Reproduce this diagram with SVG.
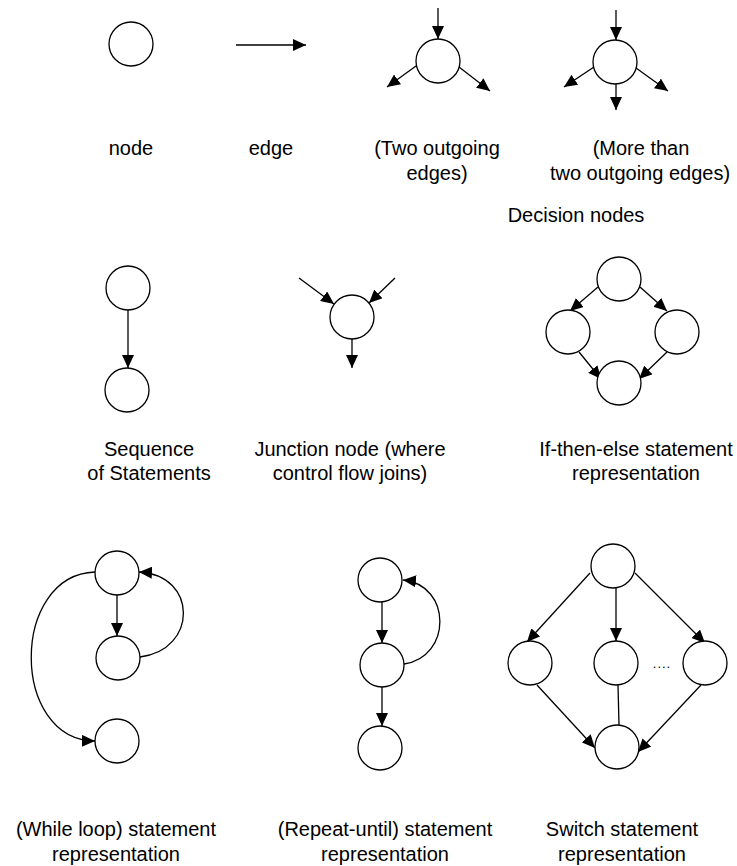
<svg xmlns="http://www.w3.org/2000/svg" width="737" height="866" viewBox="0 0 737 866">
<style>
.n{fill:#fff;stroke:#000;stroke-width:1.3}
.e{fill:none;stroke:#000;stroke-width:1.3}
.a{marker-end:url(#ah)}
text{font-family:"Liberation Sans",Arial,sans-serif;font-size:20px;fill:#000;text-anchor:middle}
</style>
<defs>
<marker id="ah" markerUnits="userSpaceOnUse" markerWidth="13" markerHeight="12" refX="13" refY="6" orient="auto">
<path d="M0,0 L13,6 L0,12 z" fill="#000"/>
</marker>
</defs>
<rect width="737" height="866" fill="#fff"/>
<g id="connectors">
<line class="e a" x1="236" y1="45" x2="306" y2="45"/>
<line class="e a" x1="438" y1="8" x2="438" y2="39"/>
<line class="e a" x1="416" y1="66" x2="387" y2="87"/>
<line class="e a" x1="459" y1="67" x2="490" y2="91"/>
<line class="e a" x1="616" y1="10" x2="616" y2="40"/>
<line class="e a" x1="594" y1="67" x2="564" y2="87"/>
<line class="e a" x1="636" y1="68" x2="668" y2="91"/>
<line class="e a" x1="616" y1="84" x2="616" y2="110"/>
<line class="e a" x1="128" y1="310" x2="128" y2="368"/>
<line class="e a" x1="299" y1="278" x2="334" y2="304"/>
<line class="e a" x1="395" y1="278" x2="369" y2="303"/>
<line class="e a" x1="352" y1="339" x2="352" y2="368"/>
<line class="e a" x1="598" y1="287" x2="570" y2="311"/>
<line class="e a" x1="640" y1="287" x2="667" y2="311"/>
<line class="e a" x1="579" y1="352" x2="601" y2="379"/>
<line class="e a" x1="667" y1="352" x2="639" y2="379"/>
<line class="e a" x1="117" y1="595" x2="117" y2="636"/>
<path class="e a" d="M140,657 C198,650 198,575 139,572"/>
<path class="e a" d="M95,572 C10,575 10,740 95,741"/>
<line class="e a" x1="382" y1="602" x2="382" y2="643"/>
<line class="e a" x1="382" y1="687" x2="382" y2="726"/>
<path class="e a" d="M404,664 C452,657 452,585 403,580"/>
<line class="e a" x1="590" y1="573" x2="527" y2="642"/>
<line class="e a" x1="616" y1="588" x2="616" y2="641"/>
<line class="e a" x1="635" y1="573" x2="705" y2="643"/>
<line class="e a" x1="537" y1="685" x2="595" y2="748"/>
<line class="e" x1="618" y1="685" x2="619" y2="725"/>
<line class="e a" x1="701" y1="685" x2="638" y2="752"/>
</g>
<g id="node-single"><circle class="n" cx="131" cy="44" r="22"/></g>
<g id="node-two-out"><circle class="n" cx="438" cy="61" r="22"/></g>
<g id="node-more-out"><circle class="n" cx="615" cy="62" r="22"/></g>
<g id="seq-1"><circle class="n" cx="128" cy="288" r="22"/></g>
<g id="seq-2"><circle class="n" cx="127" cy="390" r="22"/></g>
<g id="junction"><circle class="n" cx="352" cy="317" r="22"/></g>
<g id="if-top"><circle class="n" cx="619" cy="279" r="22"/></g>
<g id="if-left"><circle class="n" cx="568" cy="332" r="22"/></g>
<g id="if-right"><circle class="n" cx="677" cy="332" r="22"/></g>
<g id="if-bottom"><circle class="n" cx="619" cy="383" r="22"/></g>
<g id="while-1"><circle class="n" cx="117" cy="573" r="22"/></g>
<g id="while-2"><circle class="n" cx="118" cy="658" r="22"/></g>
<g id="while-3"><circle class="n" cx="117" cy="741" r="22"/></g>
<g id="repeat-1"><circle class="n" cx="380" cy="580" r="22"/></g>
<g id="repeat-2"><circle class="n" cx="382" cy="665" r="22"/></g>
<g id="repeat-3"><circle class="n" cx="380" cy="748" r="22"/></g>
<g id="switch-top"><circle class="n" cx="613" cy="566" r="22"/></g>
<g id="switch-left"><circle class="n" cx="530" cy="663" r="22"/></g>
<g id="switch-mid"><circle class="n" cx="616" cy="663" r="22"/></g>
<g id="switch-right"><circle class="n" cx="705" cy="663" r="22"/></g>
<g id="switch-bottom"><circle class="n" cx="617" cy="747" r="22"/></g>
<g id="labels">
<text x="131" y="155">node</text>
<text x="271" y="155">edge</text>
<text x="437" y="155">(Two outgoing</text>
<text x="437" y="180">edges)</text>
<text x="641" y="155">(More than</text>
<text x="640" y="180">two outgoing edges)</text>
<text x="576" y="222">Decision nodes</text>
<text x="149" y="456">Sequence</text>
<text x="149" y="480">of Statements</text>
<text x="350" y="456">Junction node (where</text>
<text x="350" y="480">control flow joins)</text>
<text x="636" y="456">If-then-else statement</text>
<text x="636" y="480">representation</text>
<text x="116" y="836">(While loop) statement</text>
<text x="116" y="861">representation</text>
<text x="385" y="836">(Repeat-until) statement</text>
<text x="385" y="861">representation</text>
<text x="622" y="836">Switch statement</text>
<text x="622" y="861">representation</text>
<text x="662" y="668" style="font-size:13px;letter-spacing:1px">....</text>
</g>
</svg>
